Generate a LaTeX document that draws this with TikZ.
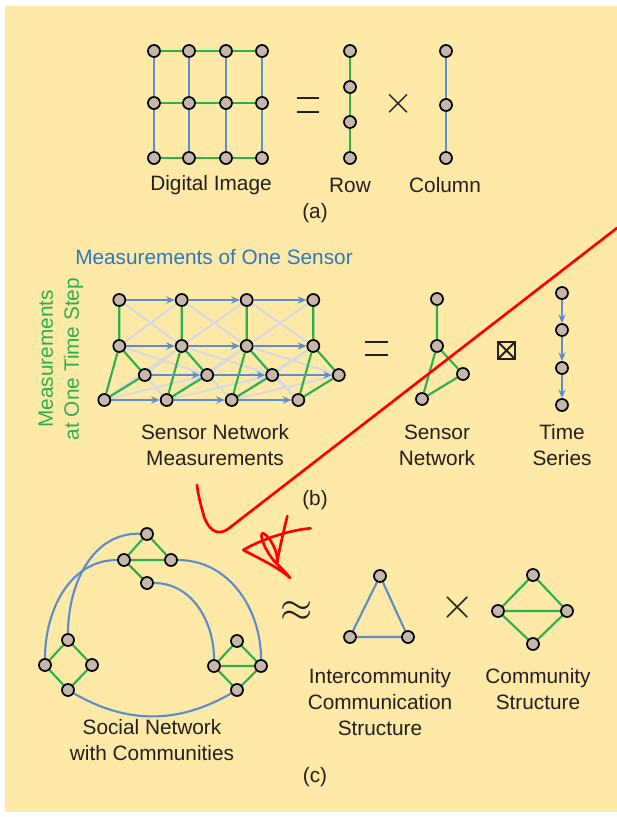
\documentclass[tikz,border=0pt]{standalone}
\usepackage{graphicx}
\usepackage{fontspec}
\setmainfont{Liberation Sans}
\usepackage{tikz}
\usetikzlibrary{shapes,arrows,arrows.meta,positioning,backgrounds}

\definecolor{paper}{RGB}{254,234,166}
\definecolor{netgreen}{RGB}{42,176,76}
\definecolor{netblue}{RGB}{92,142,206}
\definecolor{titleblue}{RGB}{43,121,192}
\definecolor{faint}{RGB}{214,219,224}
\definecolor{vfill}{RGB}{197,183,172}
\definecolor{ink}{RGB}{35,31,32}

\begin{document}
\begin{tikzpicture}[x=0.75pt, y=-0.75pt, font=\fontsize{15.6}{19.5}\selectfont, text=ink]
    % Define styles
    \tikzstyle{vertex} = [circle, draw=black, fill=vfill, line width=1.3pt, minimum size=9pt, inner sep=0pt]
    \tikzstyle{gline} = [draw=netgreen, line width=1.6pt]
    \tikzstyle{bline} = [draw=netblue, line width=1.6pt]
    \tikzstyle{fline} = [draw=faint, line width=1.6pt]
    \tikzstyle{tarrow} = [draw=netblue, line width=2pt, -{Stealth[length=6.5pt,width=5.5pt]}]
    \tikzstyle{caption} = [align=center]
    \tikzstyle{opsym} = [font=\fontsize{10}{10}\selectfont, inner sep=0pt]
    \tikzstyle{opline} = [draw=ink, line width=1.5pt]
    \tikzstyle{pen} = [draw=red, line width=2pt, line cap=round, line join=round]

    \useasboundingbox (0,0) rectangle (617,817);

    % (a) digital image = row x column
    \foreach \c/\x in {1/154,2/189,3/226,4/262}
      \foreach \r/\y in {1/51,2/103,3/158}
        \node [vertex] (g\c\r) at (\x,\y) {};
    \foreach \r/\y in {1/51,2/87,3/122,4/158}
      \node [vertex] (row\r) at (350,\y) {};
    \foreach \r/\y in {1/51,2/105,3/158}
      \node [vertex] (col\r) at (446,\y) {};
    \node [opsym] (timesa) at (399,104) {\scalebox{2.9}{$\times$}};
    \node [caption] (imglabel) at (211,185) {Digital Image};
    \node [caption] (rowlabel) at (350,185) {Row};
    \node [caption] (collabel) at (445,185) {Column};
    \node [caption] (tagA) at (315,213) {(a)};

    % (b) sensor network measurements
    \node [text=titleblue] (sensortitle) at (214,257) {Measurements of One Sensor};
    \node [text=netgreen, rotate=90, align=center] (steptitle) at (61,359) {Measurements\\at One Time Step};
    \foreach \i/\x in {1/119.3,2/181.7,3/246.7,4/313.3} {
        \node [vertex] (sa\i) at (\x,300) {};
        \node [vertex] (sb\i) at (\x,346) {};
        \node [vertex] (sc\i) at (\x+25.5,375) {};
        \node [vertex] (sd\i) at (\x-15,400) {};
    }
    \node [vertex] (n1) at (437,299) {};
    \node [vertex] (n2) at (437,346) {};
    \node [vertex] (n3) at (463,374) {};
    \node [vertex] (n4) at (422,399) {};
    \node [draw=ink, line width=1.8pt, minimum size=12.5pt, inner sep=0pt,
           path picture={\draw [ink, line width=1.4pt]
             (path picture bounding box.north west) -- (path picture bounding box.south east)
             (path picture bounding box.north east) -- (path picture bounding box.south west);}]
           (kron) at (506.5,350.5) {};
    \foreach \r/\y in {1/293,2/330,3/368,4/405}
      \node [vertex] (ts\r) at (562,\y) {};
    \node [caption] (measlabel) at (215,445) {Sensor Network\\Measurements};
    \node [caption] (netlabel) at (437,445) {Sensor\\Network};
    \node [caption] (serieslabel) at (562,445) {Time\\Series};
    \node [caption] (tagB) at (315,500) {(b)};

    % (c) social network with communities
    \node [vertex] (ct1) at (147,534) {};
    \node [vertex] (ct2) at (124,560) {};
    \node [vertex] (ct3) at (171,560) {};
    \node [vertex] (ct4) at (147,583) {};
    \node [vertex] (cl1) at (68,640) {};
    \node [vertex] (cl2) at (45,665) {};
    \node [vertex] (cl3) at (92,665) {};
    \node [vertex] (cl4) at (68,690) {};
    \node [vertex] (cr1) at (237,641) {};
    \node [vertex] (cr2) at (214,666) {};
    \node [vertex] (cr3) at (261,666) {};
    \node [vertex] (cr4) at (237,690) {};
    \node [opsym] (approx) at (297,612) {\scalebox{3.1}{$\approx$}};
    \node [vertex] (i1) at (380,576) {};
    \node [vertex] (i2) at (350,637) {};
    \node [vertex] (i3) at (408,637) {};
    \node [opsym] (timesc) at (457.5,607) {\scalebox{3.3}{$\times$}};
    \node [vertex] (d1) at (533,575) {};
    \node [vertex] (d2) at (498,611) {};
    \node [vertex] (d3) at (567,611) {};
    \node [vertex] (d4) at (533,644) {};
    \node [caption] (sociallabel) at (152,740) {Social Network\\with Communities};
    \node [caption] (interlabel) at (380,702) {Intercommunity\\Communication\\Structure};
    \node [caption] (commlabel) at (538,689.5) {Community\\Structure};
    \node [caption] (tagC) at (315,777) {(c)};

    \begin{scope}[on background layer]
    \fill [paper] (5,6) rectangle (617,812);
    % Edges (a)
    \foreach \r in {1,2,3}
      \draw [gline] (g1\r) -- (g2\r) -- (g3\r) -- (g4\r);
    \foreach \c in {1,...,4}
      \draw [bline] (g\c1) -- (g\c2) -- (g\c3);
    \draw [gline] (row1) -- (row2) -- (row3) -- (row4);
    \draw [bline] (col1) -- (col2) -- (col3);
    \draw [opline] (297,98) -- (319,98) (297,112) -- (319,112);
    % Edges (b)
    \foreach \i/\j in {1/2,2/3,3/4} {
        \draw [fline] (sa\i) -- (sb\j) (sb\i) -- (sa\j);
        \draw [fline] (sb\i) -- (sc\j) (sc\i) -- (sb\j);
        \draw [fline] (sb\i) -- (sd\j) (sd\i) -- (sb\j);
        \draw [fline] (sc\i) -- (sd\j) (sd\i) -- (sc\j);
    }
    \foreach \i in {1,...,4}
      \draw [gline] (sa\i) -- (sb\i) -- (sc\i) -- (sd\i) -- (sb\i);
    \foreach \i/\j in {1/2,2/3,3/4}
      \foreach \s in {a,b,c,d}
        \draw [tarrow] (s\s\i) -- (s\s\j);
    \draw [opline] (365,342) -- (388,342) (365,355) -- (388,355);
    \draw [gline] (n1) -- (n2) -- (n3) -- (n4) -- (n2);
    \draw [tarrow, line width=1.6pt] (ts1) -- (ts2);
    \draw [tarrow, line width=1.6pt] (ts2) -- (ts3);
    \draw [tarrow, line width=1.6pt] (ts3) -- (ts4);
    % Edges (c)
    \draw [gline] (ct1) -- (ct2) -- (ct3) -- (ct1) (ct2) -- (ct4);
    \draw [gline] (cl1) -- (cl2) -- (cl4) -- (cl3) -- (cl1);
    \draw [gline] (cr1) -- (cr2) -- (cr4) -- (cr3) -- (cr1) (cr2) -- (cr3);
    \draw [bline] (ct1) to[out=178, in=90] (cl1);
    \draw [bline] (ct2) to[out=180, in=90] (cl2);
    \draw [bline] (ct3) to[out=0, in=90] (cr3);
    \draw [bline] (ct4) to[out=0, in=90] (cr2);
    \draw [bline] (cl4) to[out=-30, in=-150] (cr4);
    \draw [bline] (i1) -- (i2) -- (i3) -- (i1);
    \draw [gline] (d1) -- (d2) -- (d4) -- (d3) -- (d1) (d2) -- (d3);
    \end{scope}

    % red pen marks
    \draw [pen] (617,228) -- (228,529) .. controls (217,537) and (207,529) .. (203,513) .. controls (200,502) and (198,494) .. (197,485);
    \draw [pen] (310.7,528.3) .. controls (290,530) and (262,539) .. (243.3,550) .. controls (258,558) and (280,568) .. (290,578)
        .. controls (284,570) and (279,566) .. (275,562) .. controls (266,552) and (258,534) .. (263,533)
        .. controls (270,537) and (279,552) .. (277,564);
    \draw [pen] (287.3,516) .. controls (284,530) and (279,550) .. (277,564);
\end{tikzpicture}
\end{document}
